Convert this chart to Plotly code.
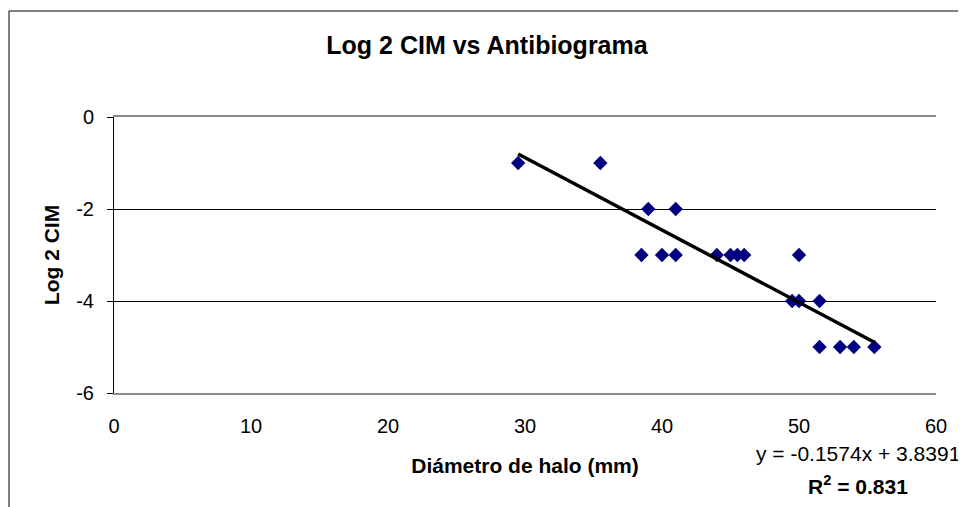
import plotly.graph_objects as go

# Data
diametro = [29.5, 35.5, 39, 41, 38.5, 40, 41, 44, 45, 45.5, 46, 50, 49.5, 50, 51.5, 51.5, 53, 54, 55.5]
log2_cim = [-1, -1, -2, -2, -3, -3, -3, -3, -3, -3, -3, -3, -4, -4, -4, -5, -5, -5, -5]

slope = -0.1574
intercept = 3.8391
r2_text = "0.831"

x_ticks = [0, 10, 20, 30, 40, 50, 60]
x_tick_labels = ["0", "10", "20", "30", "40", "50", "60"]
y_ticks = [0, -2, -4, -6]
y_tick_labels = ["0", "-2", "-4", "-6"]

FONT = "Liberation Sans, Arial, sans-serif"
OFF = 8  # page body margin
W, H = 966 - OFF, 507 - OFF

x_line = [min(diametro), max(diametro)]
y_line = [slope * v + intercept for v in x_line]

fig = go.Figure()
fig.add_trace(go.Scatter(
    x=diametro, y=log2_cim, mode="markers",
    marker=dict(symbol="diamond", size=11, color="#000080",
                line=dict(width=0)),
    showlegend=False, hoverinfo="x+y"))
fig.add_trace(go.Scatter(
    x=x_line, y=y_line, mode="lines",
    line=dict(color="black", width=3.5), showlegend=False))

fig.update_layout(
    width=W, height=H,
    margin=dict(l=114 - OFF, r=30, t=117 - OFF, b=114, pad=0),
    paper_bgcolor="white", plot_bgcolor="white",
    font=dict(family=FONT, size=20, color="black"),
    title=dict(text="<b>Log 2 CIM vs Antibiograma</b>", x=(487 - OFF) / W, xanchor="center",
               y=1 - (45 - OFF) / H, yanchor="middle", font=dict(size=25, family=FONT)),
    xaxis=dict(range=[0, 60], tickvals=x_ticks, ticktext=x_tick_labels, showgrid=False, zeroline=False,
               showline=True, linecolor="#8c8c8c", linewidth=2, mirror=True,
               ticks="", tickfont=dict(size=20), ticklabelstandoff=14,
               title=dict(text="<b>Diámetro de halo (mm)</b>", font=dict(size=21), standoff=22)),
    yaxis=dict(range=[-6, 0], tickvals=y_ticks, ticktext=y_tick_labels, showgrid=True,
               gridcolor="black", gridwidth=1,
               zeroline=True, zerolinecolor="black", zerolinewidth=1,
               showline=True, linecolor="black", linewidth=1, ticks="outside", ticklen=6,
               tickcolor="black", tickfont=dict(size=20), ticklabelstandoff=9,
               title=dict(text="<b>Log 2 CIM</b>", font=dict(size=21), standoff=10)),
    shapes=[dict(type="rect", xref="paper", yref="paper",
                 x0=(9 - 114) / 822, x1=(975 - 114) / 822,
                 y0=(393 - 515) / 276, y1=(393 - 11) / 276,
                 line=dict(color="black", width=1), layer="below")],
    annotations=[
        dict(text=f"y = {slope}x + {intercept}", xref="paper", yref="paper",
             x=(858 - 114) / 822, y=(393 - 453) / 276, xanchor="center", yanchor="middle",
             showarrow=False, font=dict(size=21)),
        dict(text=f"<b>R<sup>2</sup> = {r2_text}</b>", xref="paper", yref="paper",
             x=(858 - 114) / 822, y=(393 - 485) / 276, xanchor="center", yanchor="middle",
             showarrow=False, font=dict(size=21)),
    ],
)

fig.write_html("out.html")
